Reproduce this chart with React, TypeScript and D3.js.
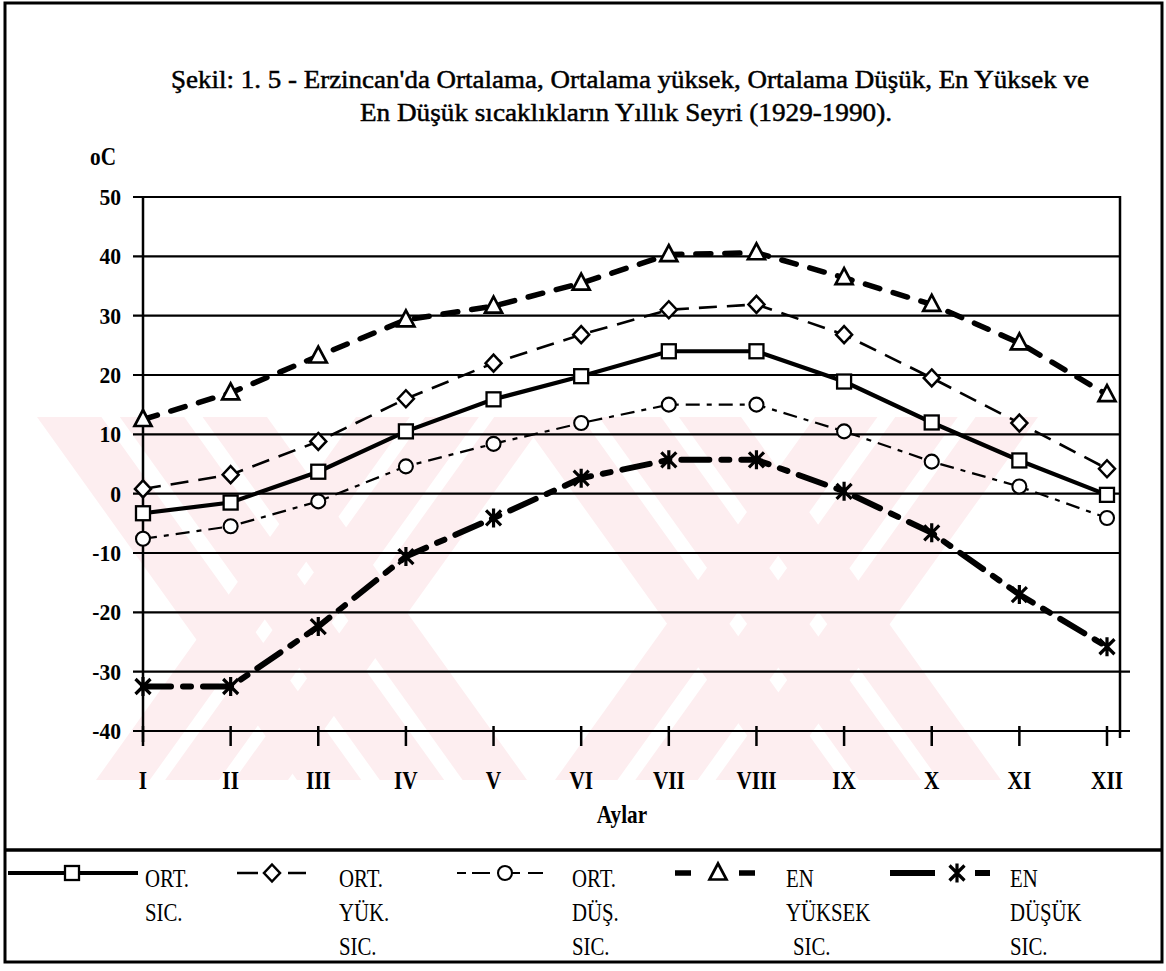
import { useEffect, useRef } from 'react';
import * as d3 from 'd3';

// months on the x axis
const months = ['I', 'II', 'III', 'IV', 'V', 'VI', 'VII', 'VIII', 'IX', 'X', 'XI', 'XII'];
const yTicks = [50, 40, 30, 20, 10, 0, -10, -20, -30, -40];

// temperatures (oC)
const ortSic = [-3.3, -1.5, 3.7, 10.5, 15.9, 19.8, 24.0, 24.0, 18.9, 12.0, 5.6, -0.2];
const ortYukSic = [0.8, 3.2, 8.8, 16.0, 22.0, 26.8, 31.0, 31.9, 26.8, 19.5, 11.9, 4.2];
const ortDusSic = [-7.6, -5.5, -1.3, 4.6, 8.4, 11.9, 15.0, 15.0, 10.5, 5.4, 1.2, -4.1];
const enYuksekSic = [12.5, 17.0, 23.2, 29.3, 31.6, 35.5, 40.3, 40.6, 36.4, 31.9, 25.4, 16.7];
const enDusukSic = [-32.5, -32.5, -22.4, -10.6, -4.1, 2.6, 5.7, 5.7, 0.4, -6.6, -17.0, -25.8];

const legendLabels = [
  ['ORT.', 'SIC.'],
  ['ORT.', 'YÜK.', 'SIC.'],
  ['ORT.', 'DÜŞ.', 'SIC.'],
  ['EN', 'YÜKSEK', ' SIC.'],
  ['EN', 'DÜŞÜK', 'SIC.'],
];

const titleLines = [
  "Şekil: 1. 5 - Erzincan'da Ortalama, Ortalama yüksek, Ortalama Düşük, En Yüksek ve",
  'En Düşük sıcaklıkların Yıllık Seyri (1929-1990).',
];

const FONT = '"Liberation Serif", "Times New Roman", serif';

type Marker = 'square' | 'diamond' | 'circle' | 'triangle' | 'star';

function drawMarker(g: any, type: Marker, cx: number, cy: number) {
  if (type === 'square') {
    g.append('rect')
      .attr('x', cx - 7).attr('y', cy - 7)
      .attr('width', 14).attr('height', 14)
      .attr('fill', '#fff').attr('stroke', '#000').attr('stroke-width', 2.3);
  } else if (type === 'diamond') {
    g.append('path')
      .attr('d', `M${cx},${cy - 8.5}L${cx + 8},${cy}L${cx},${cy + 8.5}L${cx - 8},${cy}Z`)
      .attr('fill', '#fff').attr('stroke', '#000').attr('stroke-width', 2.5);
  } else if (type === 'circle') {
    g.append('circle')
      .attr('cx', cx).attr('cy', cy).attr('r', 7)
      .attr('fill', '#fff').attr('stroke', '#000').attr('stroke-width', 2.1);
  } else if (type === 'triangle') {
    g.append('path')
      .attr('d', `M${cx},${cy - 9.5}L${cx + 8.5},${cy + 6.5}L${cx - 8.5},${cy + 6.5}Z`)
      .attr('fill', '#fff').attr('stroke', '#000').attr('stroke-width', 2.7);
  } else {
    g.append('path')
      .attr('d', `M${cx - 7.5},${cy - 7.5}L${cx + 7.5},${cy + 7.5}M${cx + 7.5},${cy - 7.5}L${cx - 7.5},${cy + 7.5}M${cx},${cy - 9.5}L${cx},${cy + 9.5}`)
      .attr('fill', 'none').attr('stroke', '#000').attr('stroke-width', 3.2);
  }
}

// scanned lettering is tall and narrow: draw text squeezed horizontally
function narrowText(parent: any, x: number, y: number, text: string, size: number, sx: number, anchor = 'start', bold = false) {
  return parent.append('text')
    .attr('transform', `translate(${x},${y}) scale(${sx},1)`)
    .attr('text-anchor', anchor)
    .style('font-family', FONT)
    .style('font-size', `${size}px`)
    .style('font-weight', bold ? 'bold' : 'normal')
    .text(text);
}

export default function App() {
  const svgRef = useRef<SVGSVGElement>(null);
  const width = 1166;
  const height = 971;

  useEffect(() => {
    const svg = d3.select(svgRef.current);
    svg.selectAll('*').remove();

    svg.append('rect').attr('width', width).attr('height', height).attr('fill', '#fff');

    // faint pink watermark behind the plot
    const wm = svg.append('g').attr('fill', '#fdeef0');
    const arms = [
      { x: 37, w: 230, dx: 260 },
      { x: 356, w: 192, dx: -260 },
      { x: 519, w: 222, dx: 260 },
      { x: 815, w: 223, dx: -260 },
    ];
    const stripes = [[0, 0.28], [0.36, 0.64], [0.72, 1]];
    arms.forEach(a => {
      stripes.forEach(([f0, f1]) => {
        const x0 = a.x + f0 * a.w;
        const x1 = a.x + f1 * a.w;
        wm.append('polygon')
          .attr('points', `${x0},417 ${x1},417 ${x1 + a.dx},780 ${x0 + a.dx},780`);
      });
    });

    // scales
    const xScale = d3.scalePoint<string>().domain(months).range([143, 1107]);
    const yScale = d3.scaleLinear().domain([-40, 50]).range([731, 197]);
    const plotRight = 1120;

    // outer frame and legend separator
    svg.append('rect')
      .attr('x', 5).attr('y', 3).attr('width', 1157).attr('height', 959)
      .attr('fill', 'none').attr('stroke', '#000').attr('stroke-width', 3);
    svg.append('line')
      .attr('x1', 5).attr('x2', 1162).attr('y1', 850).attr('y2', 850)
      .attr('stroke', '#000').attr('stroke-width', 3.5);

    // title
    titleLines.forEach((t, i) => {
      svg.append('text')
        .attr('x', i === 0 ? 630 : 626)
        .attr('y', i === 0 ? 88 : 121)
        .attr('text-anchor', 'middle')
        .attr('textLength', i === 0 ? 918 : 532)
        .attr('lengthAdjust', 'spacingAndGlyphs')
        .style('font-family', FONT)
        .style('font-size', '26px')
        .style('stroke', '#000')
        .style('stroke-width', 0.5)
        .text(t);
    });

    narrowText(svg, 103, 165, 'oC', 25, 0.85, 'middle', true);

    // grid lines (horizontal) + y labels
    const g = svg.append('g');
    g.selectAll('.grid')
      .data(yTicks)
      .enter().append('line')
      .attr('x1', 133).attr('x2', d => (d <= -30 ? 1130 : plotRight))
      .attr('y1', d => yScale(d)).attr('y2', d => yScale(d))
      .attr('stroke', '#000').attr('stroke-width', 2.2);

    yTicks.forEach(d => narrowText(g, 121, yScale(d) + 8, String(d), 24, 0.9, 'end', true));

    // left axis and right border
    g.append('line')
      .attr('x1', 143).attr('x2', 143).attr('y1', 196).attr('y2', 742)
      .attr('stroke', '#000').attr('stroke-width', 2.5);
    g.append('line')
      .attr('x1', plotRight).attr('x2', plotRight).attr('y1', 196).attr('y2', 738)
      .attr('stroke', '#000').attr('stroke-width', 2.5);

    // x ticks and labels
    g.selectAll('.xtick')
      .data(months)
      .enter().append('line')
      .attr('x1', d => xScale(d)!).attr('x2', d => xScale(d)!)
      .attr('y1', 726).attr('y2', 746)
      .attr('stroke', '#000').attr('stroke-width', 2.5);

    months.forEach(m => narrowText(g, xScale(m)!, 789, m, 25, 0.85, 'middle', true));

    narrowText(svg, 622, 823, 'Aylar', 25, 0.85, 'middle', true);

    // series
    const series: Array<{ values: number[]; marker: Marker; width: number; dash: string | null }> = [
      { values: ortSic, marker: 'square', width: 4.2, dash: null },
      { values: ortYukSic, marker: 'diamond', width: 2.6, dash: '18,10' },
      { values: ortDusSic, marker: 'circle', width: 2.2, dash: '14,7,5,7' },
      { values: enYuksekSic, marker: 'triangle', width: 5.5, dash: '15,14' },
      { values: enDusukSic, marker: 'star', width: 6, dash: '28,12,8,12' },
    ];

    const line = d3.line<number>()
      .x((d, i) => xScale(months[i])!)
      .y(d => yScale(d));

    const lines = svg.append('g');
    series.forEach(s => {
      lines.append('path')
        .datum(s.values)
        .attr('d', line)
        .attr('fill', 'none')
        .attr('stroke', '#000')
        .attr('stroke-width', s.width)
        .attr('stroke-dasharray', s.dash)
        .attr('stroke-linecap', s.width > 5 ? 'round' : 'butt');
    });

    const markers = svg.append('g');
    series.forEach(s => {
      s.values.forEach((v, i) => drawMarker(markers, s.marker, xScale(months[i])!, yScale(v)));
    });

    // legend
    const legendPos = [
      { x1: 8, x2: 138, mx: 72, tx: 145 },
      { x1: 237, x2: 306, mx: 272, tx: 339 },
      { x1: 457, x2: 543, mx: 505, tx: 572 },
      { x1: 675, x2: 755, mx: 718, tx: 786 },
      { x1: 890, x2: 990, mx: 957, tx: 1010 },
    ];
    const legendDash = [null, '21,30,18', '9,6,18,22,8,8,15', '16,48,16', '45,40,15'];
    const legend = svg.append('g');
    series.forEach((s, i) => {
      const p = legendPos[i];
      legend.append('line')
        .attr('x1', p.x1).attr('x2', p.x2).attr('y1', 873).attr('y2', 873)
        .attr('stroke', '#000')
        .attr('stroke-width', s.width)
        .attr('stroke-dasharray', legendDash[i]);
      drawMarker(legend, s.marker, p.mx, 873);
      legendLabels[i].forEach((t, j) => {
        narrowText(legend, p.tx + (t.startsWith(' ') ? 7 : 0), 887 + j * 34, t.trim(), 26, 0.8);
      });
    });
  }, []);

  return (
    <svg
      ref={svgRef}
      width={width}
      height={height}
      style={{ position: 'absolute', left: 0, top: 0, display: 'block' }}
    />
  );
}
